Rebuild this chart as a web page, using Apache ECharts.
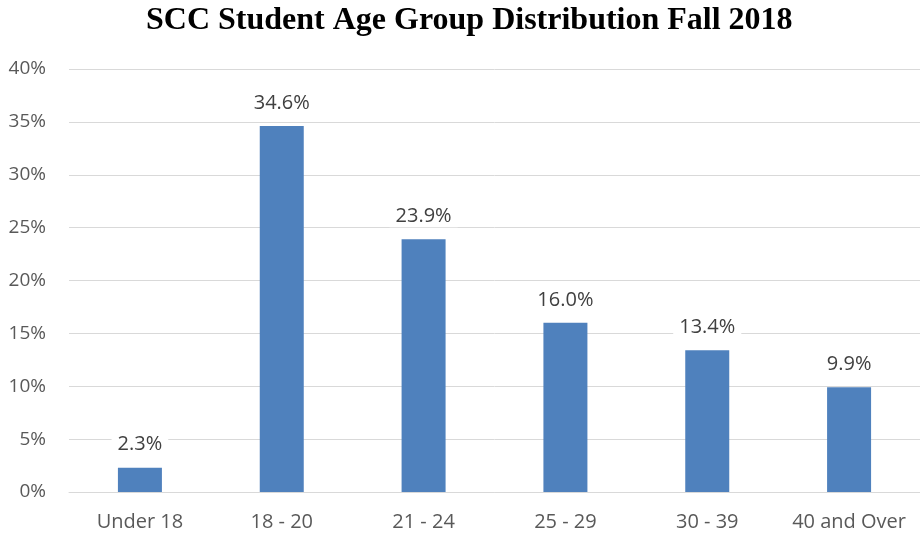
<!DOCTYPE html>
<html>
<head>
<meta charset="utf-8">
<script src="https://cdn.jsdelivr.net/npm/echarts@6/dist/echarts.min.js"></script>
<style>
  html, body { margin: 0; padding: 0; background: #fff; }
  #chart { width: 920px; height: 534px; }
</style>
</head>
<body>
<div id="chart"></div>
<script>
// age groups and share of students (%)
var categories = ["Under 18", "18 - 20", "21 - 24", "25 - 29", "30 - 39", "40 and Over"];
var shares = [2.3, 34.6, 23.9, 16.0, 13.4, 9.9];

var myChart = echarts.init(document.getElementById("chart"));
var option = {
  animation: false,
  title: {
    text: "SCC Student Age Group Distribution Fall 2018",
    left: 141,
    top: 0,
    textStyle: {
      fontFamily: "Liberation Serif",
      fontWeight: "bold",
      fontSize: 32,
      color: "#000"
    }
  },
  grid: { left: 69, right: 0, top: 69, bottom: 42 },
  xAxis: {
    type: "category",
    data: categories,
    axisLine: { show: true, lineStyle: { color: "#d9d9d9", width: 1 } },
    axisTick: { show: false },
    axisLabel: {
      color: "#595959",
      fontFamily: "Open Sans",
      fontSize: 20,
      margin: 20,
      interval: 0
    }
  },
  yAxis: {
    type: "value",
    min: 0,
    max: 40,
    interval: 5,
    axisLine: { show: false },
    axisTick: { show: false },
    splitLine: { lineStyle: { color: "#d9d9d9", width: 1 } },
    axisLabel: {
      color: "#595959",
      fontFamily: "Open Sans",
      fontSize: 19,
      margin: 23,
      formatter: "{value}%"
    }
  },
  series: [{
    type: "bar",
    data: shares,
    barWidth: 44,
    itemStyle: { color: "#4f81bd" },
    label: {
      show: true,
      position: "top",
      distance: 12,
      color: "#404040",
      fontFamily: "Open Sans",
      fontSize: 20,
      backgroundColor: "#fff",
      padding: [1, 6],
      formatter: function (p) { return p.value.toFixed(1) + "%"; }
    }
  }]
};
myChart.setOption(option);
</script>
</body>
</html>
